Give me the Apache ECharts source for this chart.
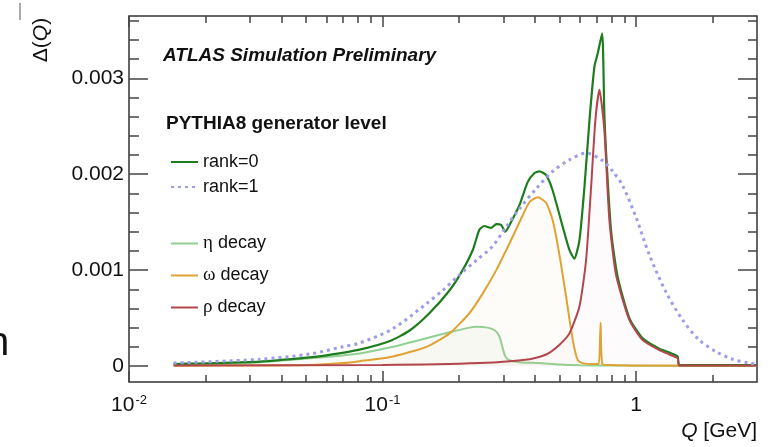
<!DOCTYPE html>
<html><head><meta charset="utf-8">
<script src="https://cdn.jsdelivr.net/npm/echarts@6/dist/echarts.min.js"></script>
<style>html,body{margin:0;padding:0;background:#fff}#c{width:775px;height:447px}</style>
</head><body><div id="c"></div>
<script>
// ---- data (Q in GeV, Delta(Q)) ----
const qRank0 = [0.015, 0.02, 0.0328, 0.0516, 0.06, 0.0812, 0.107, 0.128, 0.153, 0.184, 0.207, 0.227, 0.241, 0.252, 0.268, 0.281, 0.294, 0.305, 0.317, 0.347, 0.374, 0.397, 0.416, 0.442, 0.469, 0.514, 0.546, 0.571, 0.598, 0.626, 0.655, 0.685, 0.706, 0.735, 0.75, 0.762, 0.797, 0.846, 0.941, 1.062, 1.236, 1.353, 1.459, 1.482, 3.0];
const rank0 = [0.00002, 0.000028, 0.000045, 0.00009, 0.00011, 0.00017, 0.00026, 0.00037, 0.00055, 0.00079, 0.00100, 0.00121, 0.00142, 0.00146, 0.00144, 0.00148, 0.00147, 0.00140, 0.00147, 0.00168, 0.00192, 0.00201, 0.00203, 0.00199, 0.00183, 0.00145, 0.00121, 0.00112, 0.00131, 0.00187, 0.00256, 0.00312, 0.00326, 0.00347, 0.00262, 0.00222, 0.00141, 0.00093, 0.00050, 0.00029, 0.00018, 0.00014, 0.00010, 0.00001, 0.00001];

const qRank1 = [0.015, 0.0328, 0.0516, 0.0696, 0.0812, 0.110, 0.149, 0.173, 0.201, 0.234, 0.272, 0.307, 0.347, 0.404, 0.469, 0.546, 0.635, 0.739, 0.809, 0.886, 1.0, 1.128, 1.313, 1.527, 1.776, 2.067, 2.403, 2.797, 3.0];
const rank1 = [0.00003, 0.00007, 0.000125, 0.0002, 0.00024, 0.00039, 0.00065, 0.00079, 0.00095, 0.0011, 0.00125, 0.00145, 0.00164, 0.00185, 0.00203, 0.00215, 0.00222, 0.00214, 0.00203, 0.00188, 0.00155, 0.00116, 0.00077, 0.00048, 0.00027, 0.00015, 0.00007, 0.00003, 0.00002];

const qEta = [0.015, 0.02, 0.0328, 0.0516, 0.0696, 0.0812, 0.11, 0.149, 0.189, 0.22, 0.234, 0.26, 0.278, 0.289, 0.297, 0.305, 0.317, 0.347, 0.416, 0.50, 0.60, 0.80, 1.0, 3.0];
const eta = [0.00002, 0.000025, 0.00004, 0.00008, 0.00011, 0.00013, 0.0002, 0.00029, 0.00036, 0.0004, 0.00041, 0.0004, 0.00037, 0.00031, 0.0002, 0.0001, 0.00006, 0.00004, 0.00003, 0.000015, 0.000008, 0.000005, 0.000003, 0.000002];

const qOmega = [0.015, 0.0328, 0.0516, 0.0696, 0.0812, 0.11, 0.149, 0.184, 0.220, 0.249, 0.281, 0.317, 0.347, 0.380, 0.409, 0.442, 0.469, 0.498, 0.530, 0.563, 0.589, 0.614, 0.70, 0.714, 0.725, 0.737, 0.80, 1.0, 3.0];
const omega = [0.000003, 0.000006, 0.00001, 0.00003, 0.00005, 0.0001, 0.0002, 0.00034, 0.00055, 0.00076, 0.001, 0.00128, 0.0015, 0.00171, 0.00176, 0.0017, 0.00152, 0.00117, 0.00072, 0.00027, 0.00006, 0.00003, 0.00002, 0.00002, 0.00045, 0.00002, 0.00001, 0.000005, 0.000002];

const qRho = [0.015, 0.1, 0.241, 0.380, 0.442, 0.498, 0.546, 0.598, 0.635, 0.665, 0.691, 0.717, 0.750, 0.785, 0.834, 0.941, 1.062, 1.236, 1.353, 1.459, 1.482, 3.0];
const rho = [0.000005, 0.00001, 0.00003, 0.00007, 0.00012, 0.00022, 0.00034, 0.00062, 0.0011, 0.00187, 0.00256, 0.00288, 0.00246, 0.00152, 0.00095, 0.00048, 0.00027, 0.000165, 0.00012, 0.00008, 0.000005, 0.000005];

const seriesNames = ['rank=0', 'rank=1', 'η decay', 'ω decay', 'ρ decay'];
const xRange = [0.01, 3];
const yRange = [-0.000167, 0.00365];
const xMajorTicks = [0.01, 0.1, 1];
const xMinorTicks = [0.02, 0.03, 0.04, 0.05, 0.06, 0.07, 0.08, 0.09, 0.2, 0.3, 0.4, 0.5, 0.6, 0.7, 0.8, 0.9, 2];
const yMajorTicks = [0, 0.001, 0.002, 0.003];
const yMinorTicks = [0.0002, 0.0004, 0.0006, 0.0008, 0.0012, 0.0014, 0.0016, 0.0018, 0.0022, 0.0024, 0.0026, 0.0028, 0.0032, 0.0034, 0.0036];

// ---- chart ----
const FONT = 'Liberation Sans, Arial, Helvetica, sans-serif';
const lg = Math.log10;
const pts = (q, v) => q.map((x, i) => [lg(x), v[i]]);
const tickStyle = {color: '#444', width: 1.5};

function xAx(pos, ticks, len, withLabels) {
  return {
    type: 'value', position: pos, min: lg(xRange[0]), max: lg(xRange[1]),
    axisLine: {show: false, onZero: false}, splitLine: {show: false},
    axisTick: {show: true, inside: true, length: len, customValues: ticks.map(lg), lineStyle: tickStyle},
    axisLabel: withLabels ? {
      show: true, customValues: xMajorTicks.map(lg), margin: 12,
      fontSize: 21, lineHeight: 22, fontFamily: FONT, color: '#111',
      formatter: v => { const e = Math.round(v); return e === 0 ? '1' : '10{s|' + e + '}'; },
      rich: {s: {fontSize: 13, fontFamily: FONT, color: '#111', verticalAlign: 'top', padding: [0, 0, 0, 1]}}
    } : {show: false}
  };
}
function yAx(pos, ticks, len, withLabels) {
  return {
    type: 'value', position: pos, min: yRange[0], max: yRange[1],
    axisLine: {show: false, onZero: false}, splitLine: {show: false},
    axisTick: {show: true, inside: true, length: len, customValues: ticks, lineStyle: tickStyle},
    axisLabel: withLabels ? {
      show: true, customValues: yMajorTicks, margin: 5,
      fontSize: 21, fontFamily: FONT, color: '#111',
      formatter: v => v === 0 ? '0' : v.toFixed(3)
    } : {show: false}
  };
}

const colors = {g: '#1d7d1d', p: '#9d9de6', e: '#92d092', o: '#e0a232', r: '#b3464c'};
const SM = 0.2;

const chart = echarts.init(document.getElementById('c'), null, {renderer: 'canvas'});
chart.setOption({
  animation: false,
  backgroundColor: '#fff',
  grid: {left: 129, top: 16, width: 628, height: 366, show: true, borderColor: '#333', borderWidth: 1.5, backgroundColor: 'transparent'},
  xAxis: [
    xAx('bottom', xMajorTicks, 11, true),
    xAx('bottom', xMinorTicks, 7, false),
    xAx('top', xMajorTicks, 11, false),
    xAx('top', xMinorTicks, 7, false)
  ],
  yAxis: [
    yAx('left', yMajorTicks, 19, true),
    yAx('left', yMinorTicks, 10, false),
    yAx('right', yMajorTicks, 19, false),
    yAx('right', yMinorTicks, 9, false)
  ],
  legend: [
    {data: [seriesNames[0], seriesNames[1]], orient: 'vertical', left: 170, top: 153, padding: 0,
     itemWidth: 27, itemHeight: 14, itemGap: 7, selectedMode: false,
     itemStyle: {opacity: 0},
     textStyle: {fontSize: 18, fontFamily: FONT, color: '#111'}},
    {data: [seriesNames[2], seriesNames[3], seriesNames[4]], orient: 'vertical', left: 170, top: 234, padding: 0,
     itemWidth: 27, itemHeight: 14, itemGap: 13, selectedMode: false,
     itemStyle: {opacity: 0},
     formatter: n => '{g|' + n.charAt(0) + '}' + n.slice(1),
     textStyle: {fontSize: 18, fontFamily: FONT, color: '#111',
       rich: {g: {fontSize: 19, fontFamily: 'Liberation Serif, DejaVu Serif, serif', color: '#111'}}}}
  ],
  series: [
    {type: 'line', name: seriesNames[2], data: pts(qEta, eta), symbol: 'none', z: 2, smooth: SM,
     lineStyle: {color: colors.e, width: 2}, itemStyle: {color: colors.e},
     areaStyle: {color: 'rgba(150,200,150,0.10)'}},
    {type: 'line', name: seriesNames[3], data: pts(qOmega, omega), symbol: 'none', z: 3, smooth: SM,
     lineStyle: {color: colors.o, width: 2}, itemStyle: {color: colors.o},
     areaStyle: {color: 'rgba(230,200,140,0.07)'}},
    {type: 'line', name: seriesNames[0], data: pts(qRank0, rank0), symbol: 'none', z: 4, smooth: SM,
     lineStyle: {color: colors.g, width: 2.2}, itemStyle: {color: colors.g}},
    {type: 'line', name: seriesNames[4], data: pts(qRho, rho), symbol: 'none', z: 5, smooth: SM,
     lineStyle: {color: colors.r, width: 2}, itemStyle: {color: colors.r},
     areaStyle: {color: 'rgba(200,170,170,0.06)'}},
    {type: 'line', name: seriesNames[1], data: pts(qRank1, rank1), symbol: 'none', smooth: 0.3, z: 6,
     lineStyle: {color: colors.p, width: 3, type: [3, 4]}, itemStyle: {color: colors.p}}
  ],
  graphic: [
    {type: 'text', x: 163, y: 56, style: {text: 'ATLAS Simulation Preliminary', font: 'italic bold 19px ' + FONT, fill: '#111', verticalAlign: 'middle'}},
    {type: 'text', x: 166, y: 124, style: {text: 'PYTHIA8 generator level', font: 'bold 19px ' + FONT, fill: '#111', verticalAlign: 'middle'}},
    {type: 'text', x: 757, y: 431, style: {text: '{i|Q} [GeV]', font: '21px ' + FONT, fill: '#111', align: 'right', verticalAlign: 'middle',
      rich: {i: {font: 'italic 21px ' + FONT, fill: '#111'}}}},
    {type: 'text', x: 41, y: 40, rotation: Math.PI / 2, style: {text: 'Δ({i|Q})', font: '21px ' + FONT, fill: '#111', align: 'center', verticalAlign: 'middle',
      rich: {i: {font: 'italic 21px ' + FONT, fill: '#111'}}}},
    {type: 'text', x: -13, y: 344, style: {text: 'n', font: '40px ' + FONT, fill: '#111', verticalAlign: 'middle'}},
    {type: 'line', shape: {x1: 20, y1: 3, x2: 20, y2: 20}, style: {stroke: '#aaa', lineWidth: 2}}
  ]
});
</script>
</body></html>
